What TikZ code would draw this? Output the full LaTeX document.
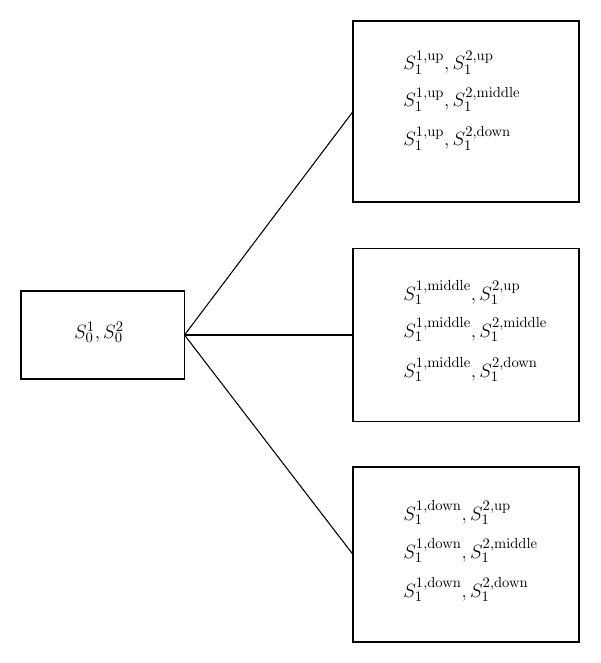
\documentclass[tikz,border=0pt]{standalone}
\begin{document}
\begin{tikzpicture}[x=0.75pt,y=-0.75pt,
  box/.style={draw,line width=0.9pt,inner sep=0pt,outer sep=0pt},
  row/.style={anchor=base west,inner sep=0pt,font=\fontsize{15}{18}\selectfont},
  link/.style={line width=0.8pt}]
\useasboundingbox (0,0) rectangle (600,663);
\node[box,minimum width=163.5*0.75pt,minimum height=88*0.75pt] (L) at (102.75,335) {};
\node[box,minimum width=226*0.75pt,minimum height=181*0.75pt] (T) at (466,111.5) {};
\node[box,minimum width=226*0.75pt,minimum height=173*0.75pt] (M) at (466,335) {};
\node[box,minimum width=226*0.75pt,minimum height=175*0.75pt] (B) at (466,554.5) {};
\node[anchor=base,inner sep=0pt,font=\fontsize{15}{18}\selectfont] (l0) at (99,338) {$S_0^1, S_0^2$};
\node[row] (t1) at (403,70) {$S_1^{1,\mathrm{up}}, S_1^{2,\mathrm{up}}$};
\node[row] (t2) at (403,107) {$S_1^{1,\mathrm{up}}, S_1^{2,\mathrm{middle}}$};
\node[row] (t3) at (403,146) {$S_1^{1,\mathrm{up}}, S_1^{2,\mathrm{down}}$};
\node[row] (m1) at (403,300) {$S_1^{1,\mathrm{middle}}, S_1^{2,\mathrm{up}}$};
\node[row] (m2) at (403,337) {$S_1^{1,\mathrm{middle}}, S_1^{2,\mathrm{middle}}$};
\node[row] (m3) at (403,377) {$S_1^{1,\mathrm{middle}}, S_1^{2,\mathrm{down}}$};
\node[row] (b1) at (403,520) {$S_1^{1,\mathrm{down}}, S_1^{2,\mathrm{up}}$};
\node[row] (b2) at (403,558) {$S_1^{1,\mathrm{down}}, S_1^{2,\mathrm{middle}}$};
\node[row] (b3) at (403,597) {$S_1^{1,\mathrm{down}}, S_1^{2,\mathrm{down}}$};
\draw[link] (L.east) -- (T.west);
\draw[link] (L.east) -- (M.west);
\draw[link] (L.east) -- (B.west);
\end{tikzpicture}
\end{document}
